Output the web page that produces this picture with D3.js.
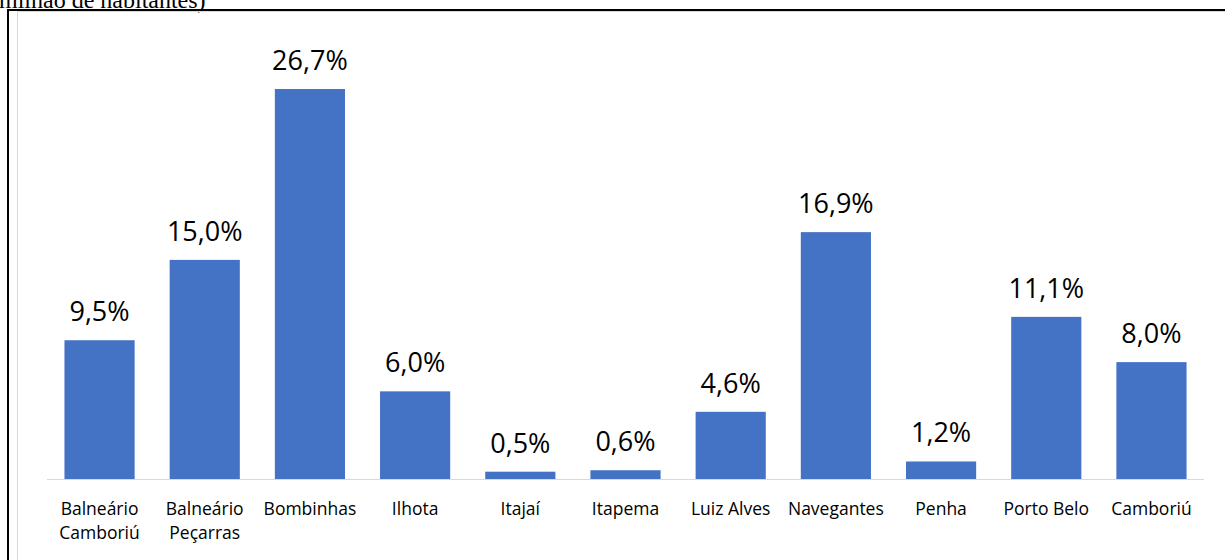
<!DOCTYPE html>
<html>
<head>
<meta charset="utf-8">
<script src="https://cdn.jsdelivr.net/npm/d3@7"></script>
<style>
  body { margin: 0; background: #fff; }
  svg { display: block; }
</style>
</head>
<body>
<div id="chart"></div>
<script>
// data
var cities = [
  ["Balneário", "Camboriú"],
  ["Balneário", "Peçarras"],
  ["Bombinhas"],
  ["Ilhota"],
  ["Itajaí"],
  ["Itapema"],
  ["Luiz Alves"],
  ["Navegantes"],
  ["Penha"],
  ["Porto Belo"],
  ["Camboriú"]
];
var values = [9.5, 15.0, 26.7, 6.0, 0.5, 0.6, 4.6, 16.9, 1.2, 11.1, 8.0];
var labels = ["9,5%", "15,0%", "26,7%", "6,0%", "0,5%", "0,6%", "4,6%", "16,9%", "1,2%", "11,1%", "8,0%"];

var width = 1225, height = 560;
var baseY = 479;

var svg = d3.select('#chart').append('svg')
  .attr('width', width)
  .attr('height', height);

// caption cut off at the top
svg.append('text')
  .attr('x', -1)
  .attr('y', 8)
  .style('font-family', '"Liberation Serif", "Times New Roman", serif')
  .style('font-size', '24px')
  .style('fill', '#000')
  .text('milhão de habitantes)');

// outer frame
svg.append('path')
  .attr('d', 'M8,' + (height + 2) + 'V10H' + (width + 2))
  .style('fill', 'none')
  .style('stroke', '#000')
  .style('stroke-width', 2);

// inner chart area border
svg.append('path')
  .attr('d', 'M17.5,' + (height + 2) + 'V11.5H' + (width + 2))
  .style('fill', 'none')
  .style('stroke', '#d9d9d9')
  .style('stroke-width', 1);

var x = d3.scaleBand()
  .domain(d3.range(values.length))
  .range([47, 1204])
  .paddingInner(0.333)
  .paddingOuter(0.166);

var y = d3.scaleLinear()
  .domain([0, 26.7])
  .range([baseY, 89]);

svg.selectAll('.bar')
  .data(values).enter()
  .append('rect').attr('class', 'bar')
  .attr('x', function(d, i) { return x(i); })
  .attr('y', function(d) { return y(d); })
  .attr('width', x.bandwidth())
  .attr('height', function(d) { return baseY - y(d); })
  .style('fill', '#4472c4');

// axis line
svg.append('line')
  .attr('x1', 47).attr('x2', 1204)
  .attr('y1', baseY + 0.5).attr('y2', baseY + 0.5)
  .style('stroke', '#d9d9d9')
  .style('stroke-width', 1);

var font = '"Open Sans", "Noto Sans", sans-serif';

svg.selectAll('.val')
  .data(values).enter()
  .append('text').attr('class', 'val')
  .attr('x', function(d, i) { return x(i) + x.bandwidth() / 2; })
  .attr('y', function(d) { return y(d) - 19; })
  .attr('text-anchor', 'middle')
  .style('font-family', font)
  .style('font-size', '27px')
  .style('fill', '#000')
  .text(function(d, i) { return labels[i]; });

var cat = svg.selectAll('.cat')
  .data(cities).enter()
  .append('text').attr('class', 'cat')
  .attr('x', function(d, i) { return x(i) + x.bandwidth() / 2; })
  .attr('y', 515)
  .attr('text-anchor', 'middle')
  .style('font-family', font)
  .style('font-size', '17.5px')
  .style('fill', '#000');

cat.selectAll('tspan')
  .data(function(d) { return d; }).enter()
  .append('tspan')
  .attr('x', function() { return d3.select(this.parentNode).attr('x'); })
  .attr('dy', function(d, j) { return j === 0 ? 0 : 24; })
  .text(function(d) { return d; });
</script>
</body>
</html>
